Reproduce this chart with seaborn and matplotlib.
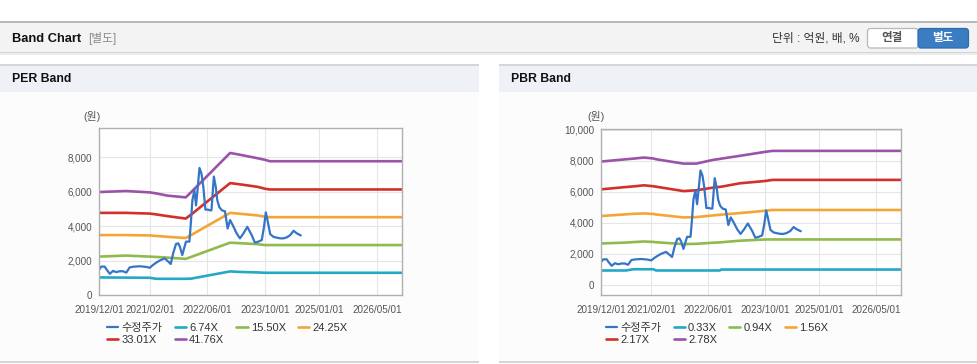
import matplotlib
matplotlib.use("Agg")
import matplotlib.pyplot as plt
import matplotlib.dates as mdates
from matplotlib.patches import Rectangle, FancyBboxPatch
from matplotlib.ticker import FuncFormatter
import pandas as pd
import seaborn as sns

# 수정주가 (same series on both charts)
price_dates = ["2019-12-01", "2019-12-20", "2020-01-18", "2020-02-01", "2020-03-01", "2020-03-28",
               "2020-04-25", "2020-05-23", "2020-06-20", "2020-07-18", "2020-08-15", "2020-09-12",
               "2020-11-07", "2021-01-03", "2021-02-01", "2021-03-01", "2021-03-28", "2021-04-25",
               "2021-06-07", "2021-07-05", "2021-07-28", "2021-08-17", "2021-09-10", "2021-09-29",
               "2021-10-13", "2021-11-02", "2021-11-19", "2021-12-03", "2022-01-01", "2022-01-13",
               "2022-01-26", "2022-02-12", "2022-02-26", "2022-03-10", "2022-03-27", "2022-04-13",
               "2022-04-28", "2022-05-16", "2022-06-06", "2022-06-22", "2022-07-06", "2022-07-26",
               "2022-08-12", "2022-08-24", "2022-09-10", "2022-10-01", "2022-10-28", "2022-11-19",
               "2022-12-10", "2023-01-01", "2023-02-04", "2023-03-03", "2023-04-01", "2023-05-04",
               "2023-06-10", "2023-07-07", "2023-08-05", "2023-09-03", "2023-09-22", "2023-10-07",
               "2023-10-21", "2023-11-13", "2023-12-10", "2024-01-08", "2024-02-05", "2024-03-04",
               "2024-04-01", "2024-04-30", "2024-05-28", "2024-06-25", "2024-07-28"]
price = [1460, 1650, 1650, 1500, 1230, 1400, 1330, 1380, 1380, 1300,
         1600, 1640, 1670, 1630, 1580, 1750, 1880, 2000, 2130, 1950,
         1800, 2420, 2960, 3000, 2800, 2320, 2750, 3100, 3100, 4150,
         5500, 6080, 5200, 6080, 7380, 7040, 6300, 4960, 4960, 4920,
         4920, 6880, 6250, 5500, 5110, 4920, 4860, 3860, 4350, 4060,
         3570, 3290, 3570, 3960, 3480, 3040, 3100, 3190, 3960, 4800,
         4350, 3540, 3380, 3330, 3290, 3290, 3350, 3480, 3730, 3580, 3460]

# PER band
per_dates = ["2019-12-01", "2020-07-15", "2021-02-01", "2021-03-28", "2021-07-01", "2021-12-01",
             "2022-01-15", "2022-12-10", "2023-03-01", "2023-08-01", "2023-10-01", "2023-11-10",
             "2026-11-28"]
per_labels = ["6.74X", "15.50X", "24.25X", "33.01X", "41.76X"]
per_674 = [1020, 1010, 1000, 940, 940, 940, 950, 1370, 1340, 1310, 1290, 1290, 1290]
per_1550 = [2230, 2290, 2230, 2210, 2170, 2100, 2210, 3040, 3010, 2950, 2900, 2900, 2900]
per_2425 = [3480, 3480, 3460, 3430, 3380, 3310, 3480, 4770, 4720, 4620, 4540, 4520, 4520]
per_3301 = [4770, 4770, 4730, 4680, 4580, 4440, 4670, 6500, 6430, 6280, 6170, 6130, 6130]
per_4176 = [5980, 6040, 5960, 5900, 5770, 5670, 5970, 8250, 8150, 7940, 7850, 7770, 7770]

# PBR band
pbr_dates = ["2019-12-01", "2020-07-01", "2020-09-01", "2020-12-01", "2021-02-18", "2021-03-15",
             "2021-11-01", "2022-02-20", "2022-07-12", "2022-09-07", "2022-09-20", "2023-02-25",
             "2023-10-01", "2023-12-01", "2026-11-28"]
pbr_labels = ["0.33X", "0.94X", "1.56X", "2.17X", "2.78X"]
pbr_033 = [930, 930, 1010, 1010, 1010, 930, 930, 930, 930, 930, 990, 990, 990, 990, 990]
pbr_094 = [2670, 2730, 2760, 2800, 2770, 2750, 2630, 2650, 2720, 2740, 2750, 2850, 2930, 2930, 2930]
pbr_156 = [4440, 4550, 4580, 4610, 4570, 4540, 4350, 4370, 4480, 4520, 4530, 4630, 4780, 4830, 4830]
pbr_217 = [6160, 6310, 6350, 6420, 6360, 6330, 6050, 6100, 6270, 6320, 6330, 6550, 6700, 6770, 6770]
pbr_278 = [7950, 8100, 8140, 8210, 8150, 8100, 7820, 7820, 8060, 8120, 8140, 8320, 8580, 8640, 8640]

x_ticks = ["2019-12-01", "2021-02-01", "2022-06-01", "2023-10-01", "2025-01-01", "2026-05-01"]

price_color = "#3574c6"
band_colors = ["#23a9c4", "#90ba4c", "#f4a534", "#d1302b", "#9a53a8"]

sns.set_style("white")
plt.rcParams["font.family"] = ["Liberation Sans", "Noto Sans CJK KR"]

W, H = 978, 364
fig = plt.figure(figsize=(W / 100, H / 100), dpi=100)
fig.patch.set_facecolor("white")

# page chrome drawn in pixel coordinates
bg = fig.add_axes([0, 0, 1, 1], zorder=-5)
bg.set_xlim(0, W)
bg.set_ylim(H, 0)
bg.axis("off")

bg.add_patch(Rectangle((0, 21), W, 1.6, color="#b9b9b9", lw=0))
bg.add_patch(Rectangle((0, 22.6), W, 29.6, color="#f3f3f3", lw=0))
bg.add_patch(Rectangle((0, 52), W, 1.2, color="#d4d4d4", lw=0))
bg.add_patch(Rectangle((0, 53.2), W, 1.5, color="#ececec", lw=0))
bg.text(12, 38.5, "Band Chart", fontsize=9.3, fontweight="bold", color="#111111", va="center")
bg.text(88, 38.5, "[별도]", fontsize=8.5, color="#8a8a8a", va="center")
bg.text(860, 38.5, "단위 : 억원, 배, %", fontsize=8.5, color="#333333", va="center", ha="right")
bg.add_patch(FancyBboxPatch((867.5, 28.5), 51, 19.5, boxstyle="round,pad=0,rounding_size=3",
                            fc="white", ec="#b8b8b8", lw=0.9))
bg.add_patch(FancyBboxPatch((918, 28.5), 50.5, 19.5, boxstyle="round,pad=0,rounding_size=3",
                            fc="#3b7dc3", ec="#2f6cab", lw=0.9))
bg.text(892.5, 38.5, "연결", fontsize=8.3, fontweight="bold", color="#555555", ha="center", va="center")
bg.text(943, 38.5, "별도", fontsize=8.3, fontweight="bold", color="white", ha="center", va="center")

for px0, pw, title in [(0, 479, "PER Band"), (499, 479, "PBR Band")]:
    bg.add_patch(Rectangle((px0, 64), pw, 298, color="#fcfcfc", lw=0))
    bg.add_patch(Rectangle((px0, 64), pw, 1.6, color="#d5d5d5", lw=0))
    bg.add_patch(Rectangle((px0, 65.6), pw, 26.8, color="#eef2f7", lw=0))
    bg.add_patch(Rectangle((px0, 361.2), pw, 1.5, color="#d5d5d5", lw=0))
    bg.text(px0 + 12, 79, title, fontsize=8.8, fontweight="bold", color="#111111", va="center")


def make_chart(box, band_dates, bands, labels, ylim, yticks, unit_x, legend_x):
    x0, y0, x1, y1 = box
    ax = fig.add_axes([x0 / W, 1 - y1 / H, (x1 - x0) / W, (y1 - y0) / H])
    ax.set_facecolor("white")
    bd = pd.to_datetime(band_dates)
    for vals, lab, col in zip(bands, labels, band_colors):
        sns.lineplot(x=bd, y=vals, ax=ax, color=col, linewidth=1.9, label=lab)
    sns.lineplot(x=pd.to_datetime(price_dates), y=price, ax=ax, color=price_color,
                 linewidth=1.6, label="수정주가")
    ax.set_xlim(pd.Timestamp("2019-12-01"), pd.Timestamp("2026-11-28"))
    ax.set_ylim(*ylim)
    ax.set_yticks(yticks)
    ax.yaxis.set_major_formatter(FuncFormatter(lambda v, p: f"{v:,.0f}"))
    ax.set_xticks(pd.to_datetime(x_ticks))
    ax.xaxis.set_major_formatter(mdates.DateFormatter("%Y/%m/%d"))
    ax.grid(True, color="#e6e6e6", lw=0.8)
    ax.set_axisbelow(True)
    for s in ax.spines.values():
        s.set_color("#b0b0b0")
        s.set_linewidth(1.0)
    ax.tick_params(axis="both", length=3, width=0.8, color="#b0b0b0", labelsize=7.1,
                   labelcolor="#555555", pad=2)
    ax.tick_params(axis="x", pad=4)
    ax.set_xlabel("")
    ax.set_ylabel("")
    bg.text(unit_x, 117, "(원)", fontsize=7.8, color="#555555", ha="center", va="center")

    handles, labs = ax.get_legend_handles_labels()
    handles = [handles[-1]] + handles[:-1]
    labs = [labs[-1]] + labs[:-1]
    order = [0, 4, 1, 5, 2, 3]
    ax.legend([handles[i] for i in order], [labs[i] for i in order], ncol=4,
              loc="upper left", bbox_to_anchor=(legend_x / W, 1 - 323 / H),
              bbox_transform=fig.transFigure, frameon=False, fontsize=8,
              handlelength=1.0, handletextpad=0.3, columnspacing=1.1,
              labelspacing=0.15, borderpad=0, borderaxespad=0, labelcolor="#333333")
    return ax


make_chart((99, 128, 402, 295), per_dates, [per_674, per_1550, per_2425, per_3301, per_4176],
           per_labels, (0, 9700), [0, 2000, 4000, 6000, 8000], 92, 107)
make_chart((601, 129, 901, 295), pbr_dates, [pbr_033, pbr_094, pbr_156, pbr_217, pbr_278],
           pbr_labels, (-650, 10050), [0, 2000, 4000, 6000, 8000, 10000], 596, 606)

fig.savefig("out.png", dpi=100, facecolor=fig.get_facecolor())
